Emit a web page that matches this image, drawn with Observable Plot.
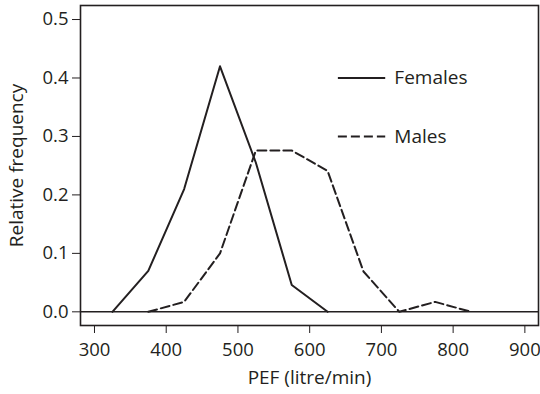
<!DOCTYPE html>
<html>
<head>
<meta charset="utf-8">
<script src="https://cdn.jsdelivr.net/npm/d3@7"></script>
<script src="https://cdn.jsdelivr.net/npm/@observablehq/plot@0.6"></script>
<style>
  html, body { margin: 0; padding: 0; background: #fff; }
  #chart svg { display: block; }
</style>
</head>
<body>
<div id="chart"></div>
<script>
// PEF class midpoints (litre/min)
const femalePEF = [325, 375, 425, 475, 525, 575, 625];
const femaleFreq = [0, 0.07, 0.21, 0.42, 0.255, 0.046, 0];
const malePEF = [375, 425, 475, 525, 575, 625, 675, 725, 775, 825];
const maleFreq = [0, 0.017, 0.10, 0.276, 0.276, 0.241, 0.069, 0, 0.017, 0];
const xTicks = [300, 400, 500, 600, 700, 800, 900];
const yTicks = [0.0, 0.1, 0.2, 0.3, 0.4, 0.5];
const legendLabels = ["Females", "Males"];
const legendY = [0.4, 0.3];
const legendX1 = 640, legendX2 = 706, legendTextX = 718;

const females = femalePEF.map((x, i) => ({x, y: femaleFreq[i]}));
const males = malePEF.map((x, i) => ({x, y: maleFreq[i]}));
const legend = legendLabels.map((label, i) => ({label, y: legendY[i], x1: legendX1, x2: legendX2, tx: legendTextX}));

const ink = "#231f20";
const chart = Plot.plot({
  width: 540,
  height: 394,
  marginLeft: 80,
  marginTop: 5,
  marginRight: 2,
  marginBottom: 69,
  style: {fontFamily: "'Open Sans', sans-serif", fontSize: "18.5px", color: ink, background: "#fff", overflow: "visible"},
  x: {domain: [280.5, 919], ticks: xTicks, tickSize: 8, tickPadding: 9, label: null},
  y: {domain: [-0.0234, 0.524], ticks: yTicks, tickFormat: d3.format(".1f"), tickSize: 8, tickPadding: 4, label: null},
  marks: [
    Plot.frame({stroke: ink, strokeWidth: 1.6}),
    Plot.ruleY([0], {stroke: ink, strokeWidth: 1.4}),
    Plot.line(females, {x: "x", y: "y", stroke: ink, strokeWidth: 2}),
    Plot.line(males, {x: "x", y: "y", stroke: ink, strokeWidth: 2, strokeDasharray: "9,4"}),
    Plot.ruleY(legend.slice(0, 1), {y: "y", x1: "x1", x2: "x2", stroke: ink, strokeWidth: 2}),
    Plot.ruleY(legend.slice(1, 2), {y: "y", x1: "x1", x2: "x2", stroke: ink, strokeWidth: 2, strokeDasharray: "9,4"}),
    Plot.text(legend, {x: "tx", y: "y", text: "label", textAnchor: "start", fill: ink, fontSize: 19}),
    Plot.text(["PEF (litre/min)"], {frameAnchor: "bottom", textAnchor: "middle", dy: 58, fill: ink, fontSize: 19}),
    Plot.text(["Relative frequency"], {frameAnchor: "left", textAnchor: "middle", dx: -64, rotate: -90, fill: ink, fontSize: 19})
  ]
});
document.getElementById("chart").appendChild(chart);
</script>
</body>
</html>
